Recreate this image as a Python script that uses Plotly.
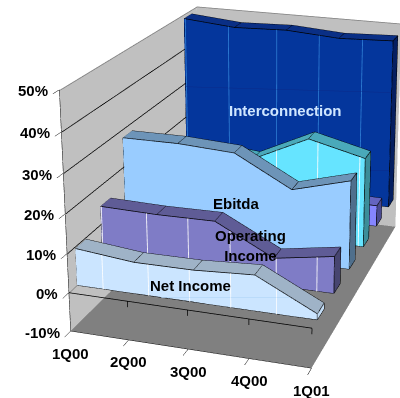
import numpy as np
import plotly.graph_objects as go

# Quarterly margins, back-to-front depth bands in a 3D area chart.
quarters = ["1Q00", "2Q00", "3Q00", "4Q00", "1Q01"]
net_income = [9.5, 8.0, 8.1, 9.0, 1.5]
operating_income = [14.7, 14.4, 14.6, 7.0, 9.5]
ebitda = [27.8, 27.9, 27.1, 19.2, 23.3]
access = [19.0, 22.0, 20.6, 27.7, 24.1]
wireless = [8.0, 8.0, 7.0, 6.0, 5.8]
interconnection = [48.8, 47.5, 48.0, 47.0, 47.6]
percent_ticks = [-10, 0, 10, 20, 30, 40, 50]

# series values, depth band start, front / top / side colours
bands = [
    (net_income, 0, "#cbe5ff", "#9fb3c7", "#c2dcf5"),
    (operating_income, 1, "#7f7cc6", "#5f5c96", "#474570"),
    (ebitda, 2, "#99ccff", "#6d94b8", "#4f6f8c"),
    (access, 3, "#66e4ff", "#4aa9ba", "#3b8d99"),
    (wireless, 4, "#8585ff", "#6464c0", "#4a4a90"),
    (interconnection, 5, "#04369c", "#0a2f85", "#051f60"),
]
THICK = (0.3, 0.7)

# Fine rules showing through the translucent fills: (series index, x positions, colour)
rules = [
    (0, [0.46, 1.24, 1.93, 2.61, 3.35], "#ffffff"),
    (1, [0.02, 0.82, 1.54, 2.26, 3.04, 3.72], "#ffffff"),
    (3, [2.43, 3.17, 3.91], "#ffffff"),
    (5, [0.03, 0.88, 1.82, 2.63, 3.44], "#2f7fd6"),
]
# Cross rules on the same fills: (series index, x0, level0, x1, level1, colour)
cross_rules = [
    (5, 0.0, 29.0, 4.0, 33.2, "#0a2a8a"),
    (5, 3.5, 10.0, 4.0, 10.8, "#0a2a8a"),
    (0, 1.45, 0.0, 3.55, 4.6, "#a9d0f5"),
]

LIGHT = dict(ambient=1, diffuse=0, specular=0, roughness=1, fresnel=0)
fig = go.Figure()


def line3d(xs, ys, zs, colour, width):
    fig.add_trace(go.Scatter3d(x=xs, y=ys, z=zs, mode="lines", line=dict(color=colour, width=width), hoverinfo="skip"))


def plane(xs, ys, zs, colour):
    fig.add_trace(go.Mesh3d(x=xs, y=ys, z=zs, i=[0, 0], j=[1, 2], k=[2, 3], color=colour, flatshading=True,
                            lighting=LIGHT, hoverinfo="skip", showscale=False))


# left wall, back wall and floor (the floor sits just inside the axis range to stay clear of its clip plane)
FLOOR = -9.97
plane([0, 0, 0, 0], [0, 6, 6, 0], [-10, -10, 50, 50], "#c0c0c0")
plane([0, 4, 4, 0], [6, 6, 6, 6], [-10, -10, 50, 50], "#c0c0c0")
plane([0, 4, 4, 0], [0, 0, 6, 6], [FLOOR] * 4, "#808080")


def solid(values, slot, front, top, side):
    d0, d1 = slot + THICK[0], slot + THICK[1]
    xs, ys, zs = [], [], []
    for k, v in enumerate(values):
        xs += [k, k, k, k]
        ys += [d0, d0, d1, d1]
        zs += [0, v, 0, v]
    i, j, m, colours = [], [], [], []

    def quad(a, b, c, d, colour):
        i.extend([a, a]); j.extend([b, c]); m.extend([c, d]); colours.extend([colour, colour])

    for k in range(len(values) - 1):
        a = 4 * k
        quad(a, a + 4, a + 5, a + 1, front)
        quad(a + 1, a + 5, a + 7, a + 3, top)
    last = 4 * (len(values) - 1)
    quad(last, last + 2, last + 3, last + 1, side)
    quad(0, 2, 3, 1, side)
    fig.add_trace(go.Mesh3d(x=xs, y=ys, z=zs, i=i, j=j, k=m, facecolor=colours, flatshading=True,
                            lighting=LIGHT, hoverinfo="skip", showscale=False))

    # outline of the solid
    lx, ly, lz = [], [], []

    def seg(pts):
        for p in pts:
            lx.append(p[0]); ly.append(p[1]); lz.append(p[2])
        lx.append(None); ly.append(None); lz.append(None)

    n = len(values) - 1
    seg([(k, d0, v) for k, v in enumerate(values)])
    seg([(k, d1, v) for k, v in enumerate(values)])
    seg([(0, d0, 0), (n, d0, 0)])
    for k, v in enumerate(values):
        seg([(k, d0, v), (k, d1, v)])
    seg([(n, d0, 0), (n, d0, values[n])])
    seg([(n, d1, 0), (n, d1, values[n])])
    seg([(n, d0, 0), (n, d1, 0)])
    seg([(0, d0, 0), (0, d0, values[0])])
    line3d(lx, ly, lz, "black", 1.5)


for band in bands:
    solid(*band)

for index, positions, colour in rules:
    values = bands[index][0]
    d = bands[index][1] + THICK[0] - 0.01
    lx, ly, lz = [], [], []
    for x in positions:
        top = float(np.interp(x, range(5), values))
        lx += [x, x, None]; ly += [d, d, None]; lz += [0, top, None]
    line3d(lx, ly, lz, colour, 1.6)

for index, x0, z0, x1, z1, colour in cross_rules:
    d = bands[index][1] + THICK[0] - 0.01
    line3d([x0, x1], [d, d], [z0, z1], colour, 1)

# gridlines on the left wall, wall edges, and the zero line with its tick marks
gx, gy, gz = [], [], []
for v in percent_ticks[2:-1]:
    gx += [0.01, 0.01, None]; gy += [0, 6, None]; gz += [v, v, None]
line3d(gx, gy, gz, "black", 1.5)
line3d([0.01, 0.01], [0, 0.4], [0, 0], "#808080", 1.5)
line3d([0.01, 0.01, 4], [0.01, 5.99, 5.99], [49.9, 49.9, 49.9], "#808080", 1.5)
ax_x, ax_y, ax_z = [0, 4, None], [0, 0, None], [0, 0, None]
for k in range(1, 5):
    ax_x += [k, k, None]; ax_y += [0, 0, None]; ax_z += [0, -1.5, None]
line3d(ax_x, ax_y, ax_z, "black", 1.5)

label_font = dict(size=15, family="Liberation Sans", weight="bold", color="black")


def label(x, y, z, text, color="black"):
    return dict(x=x, y=y, z=z, text=text, showarrow=False, xanchor="center", yanchor="middle",
                font=dict(label_font, color=color))


axis_labels = [
    dict(x=0, y=0, z=v, text=f"{v}%", showarrow=False, xanchor="right", yanchor="middle", xshift=-9, yshift=-1,
         font=label_font)
    for v in percent_ticks
] + [
    dict(x=k, y=0, z=-10, text=q, showarrow=False, xanchor="center", yanchor="middle", yshift=-22, font=label_font)
    for k, q in enumerate(quarters)
]

SIZE = 1067
fig.update_layout(
    width=SIZE, height=SIZE, autosize=False, margin=dict(l=0, r=0, t=0, b=0), showlegend=False,
    paper_bgcolor="white",
    scene=dict(
        dragmode="orbit", aspectmode="manual", aspectratio=dict(x=1.0, y=1.3935, z=1.0053),
        camera=dict(eye=dict(x=1.7365, y=-4.8810, z=1.9745), center=dict(x=0.3658, y=0.2701, z=0.4495),
                    up=dict(x=-0.0878, y=0.2612, z=0.9613)),
        xaxis=dict(title="", range=[0, 4], tickvals=list(range(5)), ticktext=quarters, showticklabels=False,
                   showbackground=False, showgrid=False, showspikes=False, zeroline=False,
                   showline=True, linecolor="black", ticks="outside", ticklen=4, tickcolor="black"),
        yaxis=dict(title="", range=[0, 6], showticklabels=False, ticks="", showbackground=False, zeroline=False,
                   showgrid=False, showspikes=False, showline=False),
        zaxis=dict(title="", range=[-10, 50], tickvals=percent_ticks, ticktext=[f"{v}%" for v in percent_ticks],
                   showticklabels=False, showgrid=False, showbackground=False, showspikes=False, showline=True,
                   linecolor="black", ticks="outside", ticklen=3, tickcolor="black", zeroline=False),
        annotations=axis_labels + [
            label(1.98, 5.3, 25.0, "Interconnection", "#cfe6ff"),
            label(2.02, 2.3, 13.8, "Ebitda"),
            label(2.61, 1.3, 9.6, "Operating<br>Income"),
            label(1.95, 0.3, 4.2, "Net Income"),
        ],
    ),
)

# The scene is larger than the page; slide it so the axes land inside the window.
place = """
var g=document.querySelector('.plotly-graph-div');
g.style.position='absolute';g.style.left='-184.9px';g.style.top='-477.2px';
document.documentElement.style.overflow='hidden';document.body.style.overflow='hidden';
"""
fig.write_html("out.html", post_script=place)
